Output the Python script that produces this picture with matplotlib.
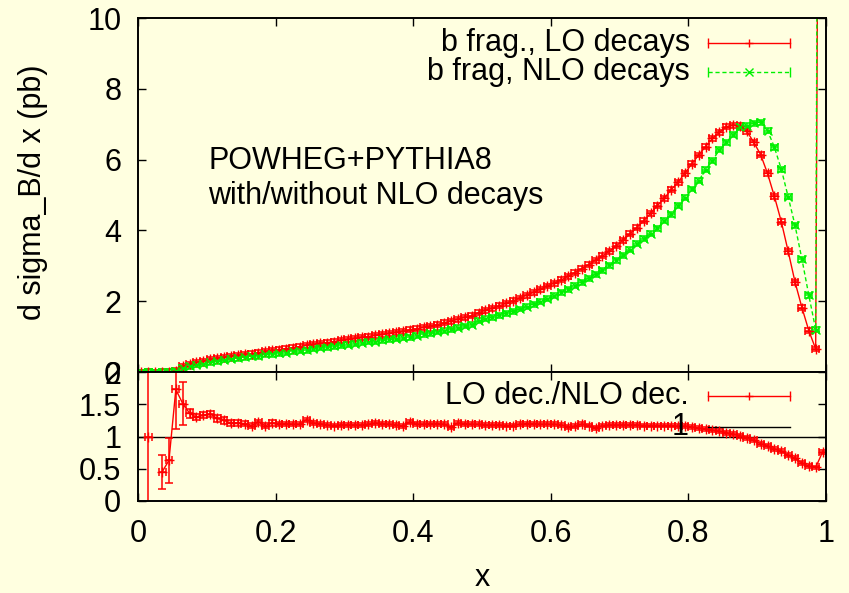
import numpy as np
import matplotlib
matplotlib.use("Agg")
import matplotlib.pyplot as plt

plt.rcParams['font.family'] = ['Liberation Sans', 'DejaVu Sans']

# bin centres (bin width 0.01)
x_centers = [round(0.005 + 0.01 * i, 3) for i in range(100)]

lo_decays = [
    0.00, 0.01, 0.00, 0.01, 0.01, 0.03, 0.16, 0.22, 0.27, 0.31,
    0.36, 0.39, 0.42, 0.45, 0.47, 0.50, 0.52, 0.55, 0.58, 0.61,
    0.63, 0.66, 0.69, 0.72, 0.76, 0.78, 0.81, 0.83, 0.86, 0.89,
    0.92, 0.95, 0.98, 1.00, 1.04, 1.06, 1.09, 1.12, 1.15, 1.19,
    1.22, 1.26, 1.30, 1.34, 1.39, 1.44, 1.49, 1.54, 1.59, 1.68,
    1.74, 1.80, 1.87, 1.94, 2.01, 2.09, 2.17, 2.25, 2.34, 2.43,
    2.51, 2.60, 2.70, 2.81, 2.92, 3.03, 3.15, 3.28, 3.41, 3.56,
    3.72, 3.90, 4.08, 4.27, 4.48, 4.70, 4.91, 5.15, 5.36, 5.62,
    5.88, 6.13, 6.37, 6.60, 6.77, 6.93, 6.97, 6.95, 6.80, 6.49,
    6.14, 5.61, 4.96, 4.25, 3.41, 2.54, 1.82, 1.17, 0.65, 40.0,
]

nlo_decays = [
    0.00, 0.01, 0.00, 0.01, 0.01, 0.02, 0.11, 0.16, 0.21, 0.23,
    0.27, 0.30, 0.34, 0.37, 0.39, 0.42, 0.44, 0.45, 0.50, 0.50,
    0.53, 0.55, 0.58, 0.60, 0.61, 0.66, 0.68, 0.70, 0.73, 0.75,
    0.77, 0.80, 0.83, 0.85, 0.86, 0.89, 0.92, 0.94, 0.97, 0.98,
    1.03, 1.06, 1.09, 1.13, 1.17, 1.21, 1.25, 1.30, 1.34, 1.45,
    1.50, 1.55, 1.60, 1.66, 1.72, 1.78, 1.85, 1.92, 1.99, 2.07,
    2.16, 2.25, 2.34, 2.44, 2.54, 2.65, 2.76, 2.88, 3.01, 3.15,
    3.30, 3.46, 3.62, 3.77, 3.90, 4.06, 4.27, 4.46, 4.70, 4.92,
    5.17, 5.40, 5.72, 5.97, 6.28, 6.49, 6.70, 6.91, 6.96, 7.03,
    7.06, 6.82, 6.35, 5.73, 4.95, 4.14, 3.19, 2.17, 1.20, 52.0,
]

ratio = [
    np.nan, 1.00, np.nan, 0.45, 0.63, 1.73, 1.51, 1.36, 1.30, 1.33,
    1.35, 1.28, 1.25, 1.21, 1.21, 1.20, 1.17, 1.22, 1.17, 1.21,
    1.20, 1.20, 1.19, 1.19, 1.26, 1.21, 1.20, 1.18, 1.17, 1.18,
    1.18, 1.18, 1.18, 1.19, 1.21, 1.20, 1.19, 1.18, 1.16, 1.22,
    1.19, 1.19, 1.20, 1.20, 1.19, 1.14, 1.21, 1.20, 1.19, 1.19,
    1.18, 1.18, 1.18, 1.17, 1.17, 1.19, 1.20, 1.20, 1.19, 1.19,
    1.19, 1.18, 1.15, 1.16, 1.19, 1.17, 1.13, 1.17, 1.18, 1.18,
    1.18, 1.18, 1.18, 1.17, 1.17, 1.17, 1.17, 1.17, 1.16, 1.16,
    1.15, 1.13, 1.12, 1.10, 1.08, 1.06, 1.04, 1.01, 0.98, 0.94,
    0.89, 0.85, 0.81, 0.77, 0.71, 0.66, 0.59, 0.54, 0.52, 0.76,
]

ratio_err = [
    0.0, 3.0, 0.0, 0.27, 0.35, 0.62, 0.33, 0.07, 0.05, 0.05,
    0.05, 0.05, 0.05, 0.04, 0.04, 0.04, 0.04, 0.04, 0.04, 0.04,
] + [0.03] * 80

top_err = 0.07
half_bin = 0.005

RED = '#ff0000'
GREEN = '#00f000'
BG = '#ffffe0'
FS = 22

fig = plt.figure(figsize=(8.49, 5.93), dpi=100, facecolor=BG)
L, R = 138 / 849, 826 / 849
top_t, mid, bot = 1 - 18 / 593, 1 - 372 / 593, 1 - 501 / 593
ax = fig.add_axes([L, mid, R - L, top_t - mid])
axr = fig.add_axes([L, bot, R - L, mid - bot])

for a in (ax, axr):
    a.set_facecolor(BG)
    a.tick_params(direction='in', length=6, width=1, top=True, right=True,
                  labelsize=FS, pad=12)
    for s in a.spines.values():
        s.set_linewidth(1.4)

# top panel
ax.errorbar(x_centers, lo_decays, xerr=half_bin, yerr=top_err, color=RED,
            marker='+', ms=7, lw=1.0, elinewidth=1.1, capsize=3, capthick=1.1)
eg = ax.errorbar(x_centers, nlo_decays, xerr=half_bin, yerr=top_err, color=GREEN,
                 marker='x', ms=6, lw=1.0, elinewidth=1.1, capsize=3, capthick=1.1,
                 ls='--')
eg[0].set_dashes([3, 2])
ax.set_xlim(0, 1)
ax.set_ylim(0, 10)
ax.set_xticks([0, 0.2, 0.4, 0.6, 0.8, 1.0])
ax.set_xticklabels([])
ax.set_yticks([0, 2, 4, 6, 8, 10])
ax.set_yticklabels(['0', '2', '4', '6', '8', '10'])

ax.text(0.102, 5.97, 'POWHEG+PYTHIA8', fontsize=FS, va='center', ha='left')
ax.text(0.102, 4.98, 'with/without NLO decays', fontsize=FS, va='center', ha='left')

# manual gnuplot-style keys
def key(a, y, label, color, marker, ls, tx=0.802):
    a.text(tx, y, label, transform=a.transAxes, fontsize=FS, ha='right', va='center')
    a.plot([0.8285, 0.9477], [y, y], transform=a.transAxes, color=color, lw=1.0,
           ls=ls, marker='|', ms=7, clip_on=False)
    if marker:
        a.plot([0.888], [y], transform=a.transAxes, color=color, marker=marker,
               ms=6, ls='none', clip_on=False)

key(ax, 0.929, 'b frag., LO decays', RED, '+', '-')
key(ax, 0.847, 'b frag, NLO decays', GREEN, 'x', (0, (3, 2)))

# ratio panel
axr.axhline(1.0, color='black', lw=1.0)
axr.errorbar(x_centers, ratio, xerr=half_bin, yerr=ratio_err, color=RED,
             marker='+', ms=7, lw=1.0, elinewidth=1.1, capsize=3, capthick=1.1)
axr.set_xlim(0, 1)
axr.set_ylim(0, 2)
axr.set_xticks([0, 0.2, 0.4, 0.6, 0.8, 1.0])
axr.set_xticklabels(['0', '0.2', '0.4', '0.6', '0.8', '1'])
axr.set_yticks([0, 0.5, 1, 1.5, 2])
axr.set_yticklabels(['0', '0.5', '1', '1.5', '2'])
axr.tick_params(axis='x', pad=13)

axr.text(0.80, 0.814, 'LO dec./NLO dec.', transform=axr.transAxes, fontsize=FS,
         ha='right', va='center')
axr.plot([0.8285, 0.9477], [0.814, 0.814], transform=axr.transAxes, color=RED,
         lw=1.0, marker='|', ms=7, clip_on=False)
axr.plot([0.888], [0.814], transform=axr.transAxes, color=RED, marker='+', ms=6,
         ls='none', clip_on=False)
axr.text(0.80, 0.574, '1', transform=axr.transAxes, fontsize=FS, ha='right', va='center')
axr.plot([0.8285, 0.9477], [0.574, 0.574], transform=axr.transAxes, color='black',
         lw=1.0, clip_on=False)

fig.text(33 / 849, 1 - 192 / 593, 'd sigma_B/d x (pb)', rotation=90, fontsize=FS,
         ha='center', va='center')
fig.text(482 / 849, 1 - 578 / 593, 'x', fontsize=FS, ha='center', va='center')

fig.savefig('out.png', dpi=100, facecolor=BG)
